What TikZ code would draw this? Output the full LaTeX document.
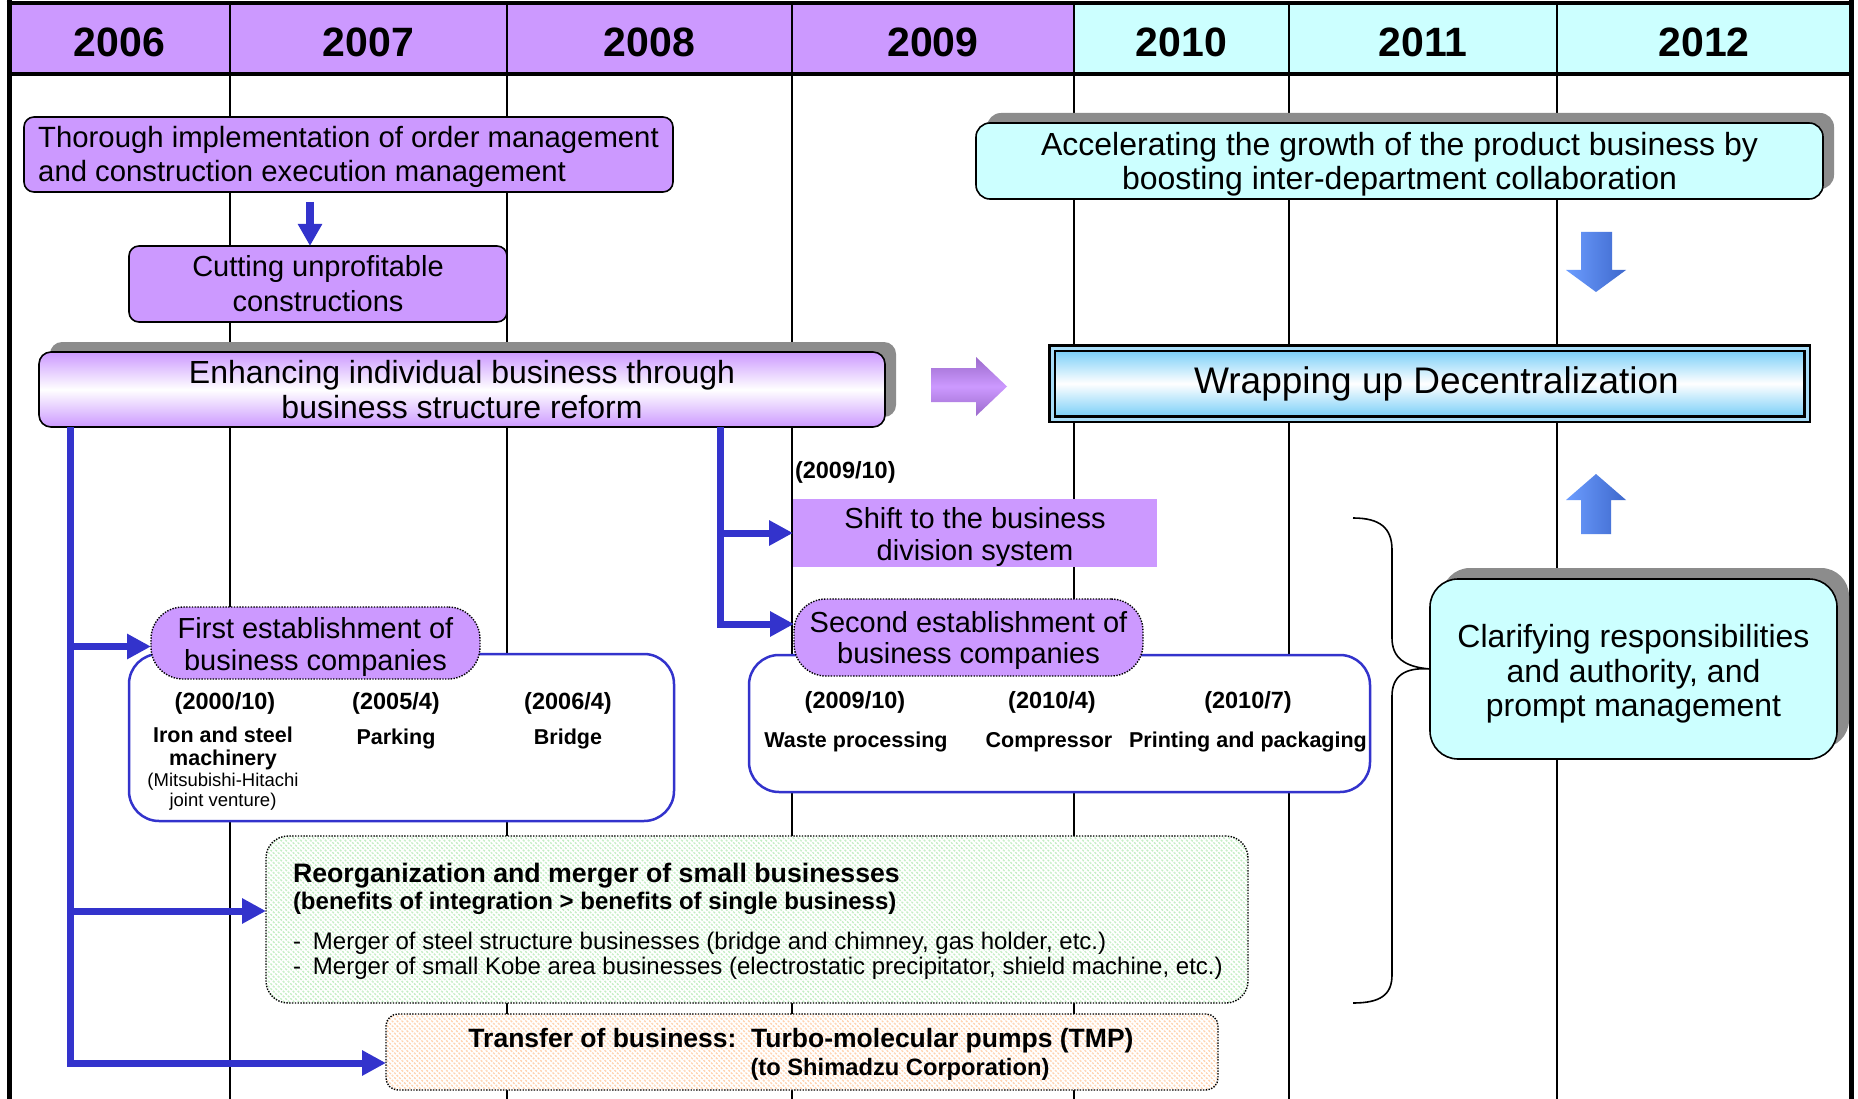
\documentclass[tikz,border=0pt]{standalone}
\usepackage{fontspec}
\setmainfont{Liberation Sans}
\usetikzlibrary{arrows.meta,shadows,patterns.meta,calc}

\definecolor{hdrpurple}{HTML}{CC99FF}
\definecolor{hdrcyan}{HTML}{CCFFFF}
\definecolor{boxpurple}{HTML}{CC99FF}
\definecolor{boxcyan}{HTML}{CCFFFF}
\definecolor{connblue}{HTML}{3333CC}
\definecolor{shadowgray}{HTML}{8C8C8C}
\definecolor{hatchgreen}{HTML}{C4EEC4}
\definecolor{hatchorange}{HTML}{FFD3B0}
\definecolor{skyblue}{HTML}{6FCBF7}
\definecolor{gapblue}{HTML}{A8DDF8}
\definecolor{arrowblueL}{HTML}{6C9DFF}
\definecolor{arrowblueR}{HTML}{3E68CC}
\definecolor{arrowpurpleD}{HTML}{9B6ACB}

\newcommand\fsz[2]{\fontsize{#1}{#2}\selectfont}
% invisible strut that lowers a multi-line node text a little
\newcommand\lowerby[1]{\rule{0pt}{#1}}

\begin{document}
\begin{tikzpicture}[x=1pt,y=-1pt,
  every node/.style={inner sep=0pt,outer sep=0pt},
  gridline/.style={line width=2pt},
  yearlbl/.style={font=\fsz{41}{41}\bfseries},
  plainbox/.style={draw=black,line width=1.6pt,align=center},
  shadowed/.style={drop shadow={shadow xshift=11pt,shadow yshift=10pt,fill=shadowgray,opacity=1}},
  bubble/.style={fill=boxpurple,draw=black,line width=1.4pt,dash pattern=on 1.4pt off 1.4pt,
                 rounded corners=32pt,align=center},
  holder/.style={draw=connblue,line width=2.5pt,rounded corners=30pt,fill=white},
  hatchbox/.style={draw=black,line width=1.4pt,dash pattern=on 1.4pt off 1.4pt,
                   preaction={fill=white},pattern={Lines[angle=-45,distance=3.5pt,line width=1.4pt]},
                   pattern color=#1},
  conn/.style={draw=connblue,line width=7pt,-{Triangle[length=24pt,width=24pt]}},
  datelbl/.style={font=\fsz{23.5}{26}\bfseries},
  itemlbl/.style={font=\fsz{21.5}{23}\bfseries,align=center},
  notelbl/.style={font=\fsz{18.5}{19.5},align=center},
]
\useasboundingbox (0,0) rectangle (1858,1099);
\fill[white] (0,0) rectangle (1858,1099);

% ---------- year header ----------
\fill[hdrpurple] (9,3) rectangle (1074,74);
\fill[hdrcyan] (1074,3) rectangle (1851,74);
\foreach \gx in {230,507,792,1074,1289,1557}
  \draw[gridline] (\gx,3) -- (\gx,1099);
\draw[line width=3.5pt] (9,74) -- (1851,74);
\draw[line width=4.5pt] (6.5,3) -- (1853.5,3);
\draw[line width=5pt] (9,0) -- (9,1099);
\draw[line width=5pt] (1851,0) -- (1851,1099);

\node[yearlbl] (y2006) at (119.5,42) {2006};
\node[yearlbl] (y2007) at (368.5,42) {2007};
\node[yearlbl] (y2008) at (649.5,42) {2008};
\node[yearlbl] (y2009) at (933,42) {2009};
\node[yearlbl] (y2010) at (1181.5,42) {2010};
\node[yearlbl] (y2011) at (1423,42) {2011};
\node[yearlbl] (y2012) at (1704,42) {2012};

% ---------- upper boxes ----------
\node[plainbox,fill=boxpurple,rounded corners=10pt,minimum width=649pt,minimum height=75pt,
      align=left,font=\fsz{29.3}{34.5}] (thorough) at (348.5,154.5)
  {\lowerby{26pt}Thorough implementation of order management\\and construction execution management};

\node[plainbox,fill=boxpurple,rounded corners=10pt,minimum width=378pt,minimum height=76pt,
      font=\fsz{29}{35}] (cut) at (318,284) {Cutting unprofitable\\constructions};

\node[plainbox,shadowed,rounded corners=12pt,top color=boxpurple,bottom color=boxpurple,
      middle color=white,minimum width=846pt,minimum height=75pt,font=\fsz{32}{35}]
  (enh) at (462,389.5) {Enhancing individual business through\\business structure reform};

\node[plainbox,shadowed,fill=boxcyan,rounded corners=14pt,minimum width=847pt,minimum height=76pt,
      font=\fsz{32}{34}] (accel) at (1399.5,161)
  {\lowerby{30pt}Accelerating the growth of the product business by\\boosting inter-department collaboration};

\node[draw=black,line width=2.5pt,double=gapblue,double distance=3pt,top color=skyblue,
      bottom color=skyblue,middle color=white,minimum width=755pt,minimum height=71pt,
      font=\fsz{37}{40}] (wrap) at (1429.5,383.5) {\hspace*{14pt}Wrapping up Decentralization};

% block arrows
\shade[top color=arrowpurpleD,bottom color=arrowpurpleD,middle color=boxpurple]
  (931,368) -- (976,368) -- (976,357) -- (1007,386.5) -- (976,416) -- (976,402) -- (931,402) -- cycle;
\shade[left color=arrowblueL,right color=arrowblueR]
  (1581,232) -- (1612,232) -- (1612,270) -- (1626,270) -- (1596,292) -- (1566,270) -- (1581,270) -- cycle;
\shade[left color=arrowblueL,right color=arrowblueR]
  (1581,534) -- (1611,534) -- (1611,500) -- (1626,500) -- (1596,474) -- (1566,500) -- (1581,500) -- cycle;

% ---------- right side ----------
\node[plainbox,fill=boxcyan,rounded corners=28pt,
      drop shadow={shadow xshift=12pt,shadow yshift=11pt,fill=shadowgray,opacity=1},
      minimum width=407pt,minimum height=180pt,font=\fsz{32}{34.5}] (clar) at (1633.5,669)
  {\lowerby{33pt}Clarifying responsibilities\\and authority, and\\prompt management};

\draw[line width=1.6pt] (1353,518) .. controls (1380,518) and (1392,528) .. (1392,550)
  -- (1392,638) .. controls (1392,658) and (1405,667) .. (clar.west)
  .. controls (1405,667) and (1392,676) .. (1392,696)
  -- (1392,975) .. controls (1392,995) and (1380,1003) .. (1353,1003);

% ---------- 2009 reform ----------
\node[datelbl,anchor=west] (shiftdate) at (795,472) {(2009/10)};
\node[fill=boxpurple,minimum width=364pt,minimum height=64pt,align=center,font=\fsz{29}{32}]
  (shift) at (975,533) {\lowerby{29pt}Shift to the business\\division system};

% ---------- first establishment ----------
\node[holder,minimum width=545pt,minimum height=167pt] (hold1) at (401.5,737.5) {};
\node[bubble,minimum width=329pt,minimum height=72pt,font=\fsz{29}{32}] (first) at (315.5,643)
  {\lowerby{30pt}First establishment of\\business companies};
\node[datelbl] (d1a) at (225,703) {(2000/10)};
\node[datelbl] (d1b) at (396,703) {(2005/4)};
\node[datelbl] (d1c) at (568,703) {(2006/4)};
\node[itemlbl] (i1a) at (223,748.5) {Iron and steel\\machinery};
\node[notelbl] (n1a) at (223,791.5) {(Mitsubishi-Hitachi\\joint venture)};
\node[itemlbl] (i1b) at (396,739) {Parking};
\node[itemlbl] (i1c) at (568,739) {Bridge};

% ---------- second establishment ----------
\node[holder,minimum width=621pt,minimum height=137pt] (hold2) at (1059.5,723.5) {};
\node[bubble,minimum width=349pt,minimum height=77pt,font=\fsz{29}{31}] (second) at (968.5,637.5)
  {\lowerby{28pt}Second establishment of\\business companies};
\node[datelbl] (d2a) at (855,702) {(2009/10)};
\node[datelbl] (d2b) at (1052,702) {(2010/4)};
\node[datelbl] (d2c) at (1248,702) {(2010/7)};
\node[itemlbl] (i2a) at (856,742) {Waste processing};
\node[itemlbl] (i2b) at (1049,742) {Compressor};
\node[itemlbl] (i2c) at (1248,742) {Printing and packaging};

% ---------- reorganization / transfer ----------
\node[hatchbox=hatchgreen,rounded corners=22pt,minimum width=982pt,minimum height=167pt]
  (reorg) at (757,919.5) {};
\node[anchor=west,font=\fsz{26.7}{28}\bfseries] (rg1) at (293,876)
  {Reorganization and merger of small businesses};
\node[anchor=west,font=\fsz{24}{26}\bfseries] (rg2) at (293,903)
  {(benefits of integration > benefits of single business)};
\node[anchor=west,font=\fsz{24}{25}] (rg3) at (293,943)
  {-\hspace{12pt}Merger of steel structure businesses (bridge and chimney, gas holder, etc.)};
\node[anchor=west,font=\fsz{24}{25}] (rg4) at (293,968)
  {-\hspace{12pt}Merger of small Kobe area businesses (electrostatic precipitator, shield machine, etc.)};

\node[hatchbox=hatchorange,rounded corners=12pt,minimum width=832pt,minimum height=76pt]
  (tmp) at (802,1052) {};
\node[font=\fsz{26.5}{28}\bfseries] (tmp1) at (801,1041)
  {Transfer of business:\ \ Turbo-molecular pumps (TMP)};
\node[font=\fsz{23.7}{26}\bfseries] (tmp2) at (900,1069) {(to Shimadzu Corporation)};

% ---------- connectors ----------
\coordinate (trunkL) at ([xshift=31pt]enh.south west);
\coordinate (trunkR) at ([xshift=681pt]enh.south west);
\coordinate (firstIn) at ([yshift=-3.5pt]first.west);
\coordinate (reorgIn) at ([yshift=8.5pt]reorg.west);
\coordinate (tmpIn) at ([yshift=-11pt]tmp.west);
\coordinate (secIn) at ([yshift=13.5pt]second.west);
\coordinate (cutIn) at ([xshift=-8pt]cut.north);

\draw[conn,line width=8pt,-{Triangle[length=22pt,width=23pt]}]
  ($(cutIn |- thorough.south)+(0,10)$) -- (cutIn);
\draw[conn] (trunkL) |- (tmpIn);
\draw[conn] (trunkL |- firstIn) -- (firstIn);
\draw[conn] (trunkL |- reorgIn) -- (reorgIn);
\draw[conn] (trunkR) |- (secIn);
\draw[conn] (trunkR |- shift.west) -- (shift.west);
\end{tikzpicture}
\end{document}
